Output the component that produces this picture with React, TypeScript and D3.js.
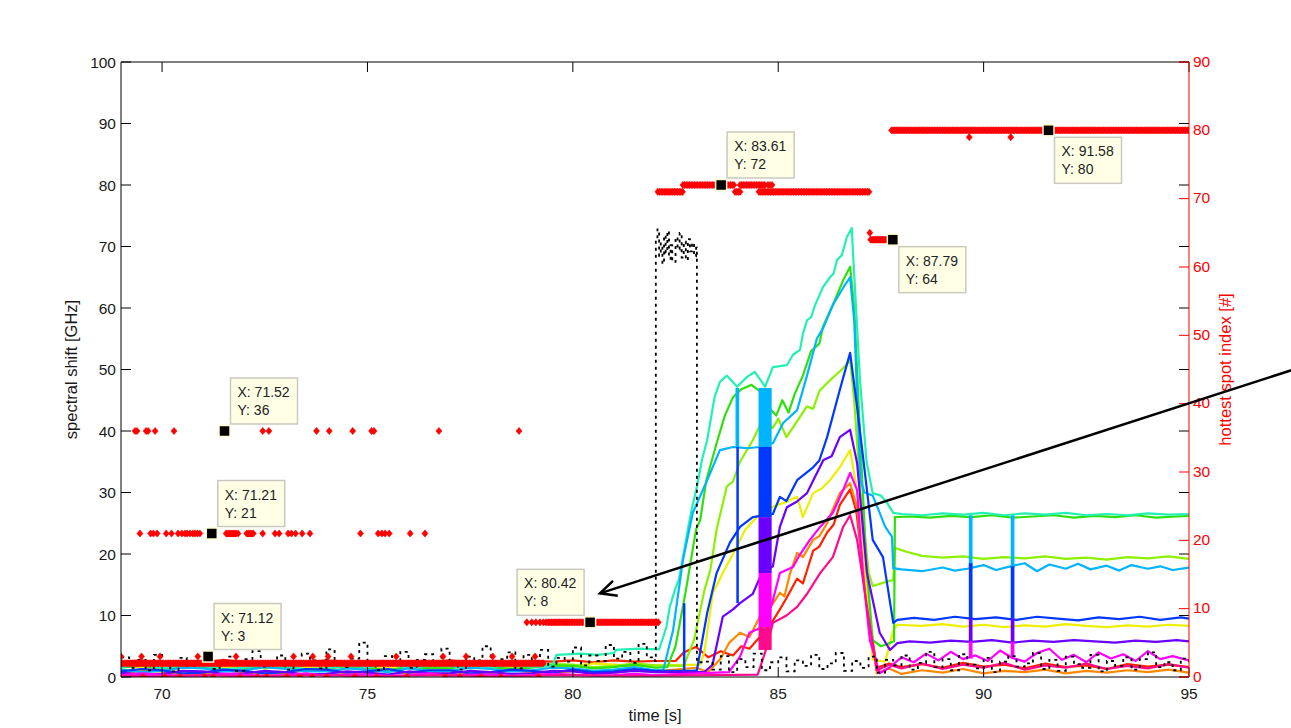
import React from 'react';
import * as d3 from 'd3';

// ---------- axes ----------
const X_DOMAIN: [number, number] = [69, 95];
const Y_LEFT_DOMAIN: [number, number] = [0, 100];
const Y_RIGHT_DOMAIN: [number, number] = [0, 90];
const xTicks = [70, 75, 80, 85, 90, 95];
const yLeftTicks = [0, 10, 20, 30, 40, 50, 60, 70, 80, 90, 100];
const yRightTicks = [0, 10, 20, 30, 40, 50, 60, 70, 80, 90];

// ---------- spectral shift traces (time [s], shift [GHz]) ----------
const traceRed: [number, number][] = [[69,2.4],[69.5,2.7],[70,2.2],[70.5,2.6],[71,2.3],[71.5,2.8],[72,2.4],[72.5,2.2],[73,2.6],[73.5,2.3],[74,2.7],[74.5,2.4],[75,2.2],[75.5,2.6],[76,2.5],[76.5,2.3],[77,2.7],[77.5,2.4],[78,2.6],[78.5,2.3],[79,2.6],[79.5,2.5],[80,2.7],[80.5,2.4],[81,2.7],[81.5,2.5],[82,2.6],[82.5,2.6],[82.7,4.0],[83.0,4.9],[83.3,3.2],[83.6,4.2],[83.9,3.5],[84.1,5],[84.3,4.6],[84.55,6.5],[84.8,8.4],[85.04,11],[85.2,12.8],[85.46,16],[85.6,15.2],[85.85,20.5],[86.0,21.2],[86.19,23.5],[86.35,24.8],[86.5,28],[86.75,30.5],[86.9,27],[87.16,12],[87.4,1.5],[87.7,2.2],[88,1.6],[88.5,2.1],[89,1.5],[89.5,2.3],[90,1.7],[90.5,2.0],[91,1.4],[91.5,2.2],[92,1.6],[92.5,1.9],[93,1.3],[93.5,2.1],[94,1.7],[94.5,2.0],[95,1.6]];
const traceOrange: [number, number][] = [[69,0.6],[69.5,1.0],[70,0.9],[70.5,0.4],[71,0.5],[71.5,1.1],[72,0.8],[72.5,0.5],[73,0.6],[73.5,1.2],[74,1.0],[74.5,0.6],[75,0.7],[75.5,1.1],[76,0.5],[76.5,0.9],[77,0.9],[77.5,0.5],[78,0.6],[78.5,1.1],[79,0.8],[79.5,0.6],[80,1.0],[80.5,0.7],[81,0.7],[81.5,1.1],[82,0.9],[83.0,1.5],[83.3,0.8],[83.6,3],[83.8,5.5],[84.07,7.2],[84.3,6.5],[84.55,9.8],[84.8,11.2],[85.04,13.7],[85.15,13.1],[85.29,16.9],[85.46,20.2],[85.6,19.5],[85.85,22.3],[86.0,22.9],[86.19,25],[86.3,26.8],[86.5,29.9],[86.75,31.5],[86.92,27.6],[87.16,11.4],[87.4,0.6],[87.7,1.4],[88,0.5],[88.5,1.1],[89,0.7],[89.5,1.3],[90,0.6],[90.5,1.0],[91,0.8],[91.5,1.2],[92,0.6],[92.5,1.0],[93,0.7],[93.5,1.1],[94,0.8],[94.5,1.2],[95,0.7]];
const traceYellow: [number, number][] = [[69,1.9],[69.5,1.5],[70,1.6],[70.5,2.1],[71,2.0],[71.5,1.6],[72,1.7],[72.5,2.2],[73,1.9],[73.5,1.5],[74,1.5],[74.5,2.0],[75,1.8],[75.5,1.5],[76,2.0],[76.5,1.7],[77,1.7],[77.5,2.1],[78,1.9],[78.5,1.6],[79,2.1],[79.5,1.8],[80,1.8],[80.5,2.2],[81,2.0],[81.5,1.7],[82,1.9],[83.1,2.0],[83.2,4],[83.41,13.7],[83.65,16.9],[83.9,20],[84.2,24],[84.48,26],[84.8,27.5],[85.2,28.5],[85.46,29.3],[85.6,26],[85.85,29.9],[86.05,30.6],[86.26,32],[86.5,34.1],[86.75,36.9],[86.99,27.6],[87.16,14.1],[87.3,2.8],[87.6,2.5],[87.8,7.5],[87.9,8.5],[88.5,8.3],[89,8.6],[89.5,8.2],[90,8.5],[90.5,8.1],[91,8.4],[91.5,8.2],[92,8.6],[92.5,8.3],[93,8.1],[93.5,8.4],[94,8.2],[94.5,8.5],[95,8.3]];
const traceChartreuse: [number, number][] = [[69,1.8],[69.5,2.2],[70,2.1],[70.5,1.5],[71,1.6],[71.5,2.0],[72,1.9],[72.5,1.4],[73,1.7],[73.5,2.2],[74,2.0],[74.5,1.6],[75,1.6],[75.5,2.1],[76,1.9],[76.5,1.5],[77,1.8],[77.5,2.2],[78,2.1],[78.5,1.7],[79,1.7],[79.5,2.1],[80,2.0],[80.5,1.6],[81,1.8],[81.5,2.2],[82,1.9],[82.7,1.8],[82.95,6],[83.2,14],[83.35,17.5],[83.5,24],[83.75,31],[83.9,31.8],[84.07,35],[84.38,38.5],[84.6,41.5],[84.87,40.5],[85.0,42],[85.2,39],[85.45,41.5],[85.7,44],[85.85,43.6],[86.0,46.5],[86.3,48.5],[86.55,50],[86.75,51.5],[86.85,45],[87.0,30],[87.2,17],[87.3,14.8],[87.55,15.3],[87.8,15.8],[87.84,21],[88.1,20.4],[88.5,19.7],[89,19.4],[89.5,19.6],[90,19.2],[90.5,19.5],[91,19.3],[91.5,19.6],[92,19.2],[92.5,19.4],[93,19.1],[93.5,19.5],[94,19.3],[94.5,19.6],[95,19.2]];
const traceGreen: [number, number][] = [[69,1.5],[69.5,1.9],[70,1.3],[70.5,1.7],[71,1.7],[71.5,1.2],[72,1.4],[72.5,1.9],[73,1.6],[73.5,1.2],[74,1.3],[74.5,1.8],[75,1.5],[75.5,1.1],[76,1.7],[76.5,1.4],[77,1.4],[77.5,1.9],[78,1.6],[78.5,1.3],[79,1.5],[79.5,1.9],[80,1.8],[80.5,1.4],[81,1.6],[81.5,2.0],[82,1.5],[82.3,1.6],[82.5,5],[82.75,14],[83.0,24],[83.1,25.5],[83.25,32],[83.5,38],[83.7,42.5],[83.9,45.5],[84.1,46.8],[84.35,47.5],[84.55,46.5],[84.75,44],[84.95,42.5],[85.1,45],[85.25,43],[85.4,46],[85.6,49],[85.8,53],[86.0,54.2],[86.09,57],[86.33,60.5],[86.58,64.5],[86.75,66.7],[86.85,60],[87.0,38],[87.15,18],[87.3,6],[87.5,5],[87.7,5.5],[87.82,5.8],[87.84,26],[88.2,26.1],[88.7,25.9],[89.2,26.2],[89.7,26.0],[90.2,26.3],[90.7,25.9],[91.2,26.1],[91.7,26.3],[92.2,25.9],[92.7,26.2],[93.2,26.0],[93.7,26.3],[94.2,25.9],[94.7,26.1],[95,26.2]];
const traceAqua: [number, number][] = [[69,1.6],[69.5,2.1],[70,1.4],[70.5,1.9],[71,1.8],[71.5,1.3],[72,1.5],[72.5,2.0],[73,1.7],[73.5,1.3],[74,1.4],[74.5,1.9],[75,1.6],[75.5,2.1],[76,1.5],[76.5,1.8],[77,1.8],[77.5,1.4],[78,1.6],[78.5,2.0],[79,1.7],[79.5,1.8],[79.6,3.6],[80.2,3.8],[80.6,3.6],[81.0,3.9],[81.05,4.4],[81.6,4.6],[82.1,4.5],[82.2,6.5],[82.28,8.2],[82.36,11.4],[82.5,14.5],[82.58,15.8],[82.68,19.5],[82.8,24],[82.9,27.5],[83.02,30.9],[83.15,35.5],[83.27,38.5],[83.45,45.5],[83.58,48],[83.75,49],[84.0,47.2],[84.24,48.8],[84.43,49.6],[84.68,47.2],[84.87,50.4],[85.21,50.7],[85.36,52.4],[85.53,53.2],[85.6,55.8],[85.7,58],[85.8,58.5],[85.9,60.5],[86.09,63.4],[86.26,65],[86.35,65.6],[86.43,67.8],[86.55,68.6],[86.67,71.5],[86.79,73],[86.82,69],[86.99,48.3],[87.15,35],[87.3,29.9],[87.5,29.5],[87.65,28.3],[87.8,26.7],[88,26.5],[88.5,26.3],[89,26.6],[89.5,26.4],[90,26.7],[90.5,26.3],[91,26.6],[91.5,26.4],[92,26.7],[92.5,26.3],[93,26.5],[93.5,26.3],[94,26.6],[94.5,26.4],[95,26.5]];
const traceSky: [number, number][] = [[69,1.2],[69.5,0.8],[70,1.0],[70.5,1.5],[71,1.4],[71.5,0.9],[72,1.1],[72.5,1.6],[73,1.3],[73.5,0.9],[74,0.9],[74.5,1.4],[75,1.2],[75.5,0.8],[76,1.4],[76.5,1.0],[77,1.0],[77.5,1.5],[78,1.3],[78.5,0.9],[79,1.1],[79.5,1.5],[80,1.4],[80.5,1.0],[81,1.2],[81.5,1.6],[82,1.1],[82.2,1.1],[82.44,7.6],[82.68,19],[82.92,26.7],[83.27,32],[83.58,36.9],[83.9,37.4],[84.24,37.2],[84.55,37.4],[84.87,38],[85.12,41.3],[85.46,43.4],[85.7,49],[85.94,55],[86.1,56.8],[86.33,60.5],[86.6,63.5],[86.75,65],[86.85,58],[87.0,32],[87.1,30],[87.3,29.5],[87.47,26.7],[87.6,24.5],[87.77,22.8],[87.8,17.7],[88,17.5],[88.5,17.2],[89,17.8],[89.3,17.3],[89.6,17.6],[90,18.2],[90.3,17.4],[90.6,17.9],[91,18.5],[91.3,17.2],[91.6,18.3],[92,17.6],[92.3,18.4],[92.6,17.5],[93,18.1],[93.3,17.3],[93.6,18.2],[94,17.6],[94.3,18.0],[94.6,17.4],[95,17.8]];
const traceBlue: [number, number][] = [[69,0.9],[69.5,1.3],[70,1.1],[70.5,0.6],[71,0.7],[71.5,1.2],[72,1.0],[72.5,0.6],[73,0.8],[73.5,1.3],[74,1.2],[74.5,0.7],[75,0.9],[75.5,1.3],[76,0.7],[76.5,1.1],[77,1.1],[77.5,0.6],[78,0.8],[78.5,1.2],[79,1.0],[79.5,0.7],[80,1.2],[80.5,0.8],[81,0.9],[81.5,1.3],[82,1.0],[82.9,1.0],[83.02,1.1],[83.27,10.4],[83.5,16.9],[83.82,21.8],[84.07,24.4],[84.38,26],[84.87,26.5],[85.04,29.3],[85.2,28.6],[85.46,32],[85.85,34.1],[86.0,35.2],[86.19,39],[86.5,46.7],[86.75,52.7],[86.92,43.9],[87.16,30.4],[87.3,22.3],[87.55,19.5],[87.8,8.8],[87.9,9.3],[88.3,9.6],[88.8,9.3],[89.3,9.8],[89.8,9.4],[90.3,9.7],[90.8,9.3],[91.3,9.8],[91.8,9.5],[92.3,9.2],[92.8,9.7],[93.3,9.4],[93.8,9.8],[94.3,9.3],[94.8,9.7],[95,9.5]];
const traceViolet: [number, number][] = [[69,0.7],[69.5,0.4],[70,0.5],[70.5,1.0],[71,0.9],[71.5,0.5],[72,0.6],[72.5,1.0],[73,0.8],[73.5,0.4],[74,0.5],[74.5,0.9],[75,0.7],[75.5,0.4],[76,0.9],[76.5,0.6],[77,0.6],[77.5,1.0],[78,0.8],[78.5,0.5],[79,0.6],[79.5,1.0],[80,0.9],[80.5,0.5],[81,0.7],[81.5,1.0],[82,0.8],[83.2,0.8],[83.4,2],[83.65,9.8],[83.9,11],[84.07,12],[84.38,13.5],[84.6,16.9],[84.87,18],[85.04,24.4],[85.21,27.6],[85.45,28.5],[85.7,29.9],[85.9,32.6],[86.1,35.3],[86.3,35.9],[86.5,39],[86.75,40.2],[86.92,34.8],[87.16,16.9],[87.47,7.2],[87.72,4.4],[87.9,5.5],[88.2,5.8],[88.7,5.6],[89.2,5.9],[89.7,5.7],[90.2,6.0],[90.7,5.6],[91.2,5.9],[91.7,5.7],[92.2,6.0],[92.7,5.8],[93.2,5.6],[93.7,5.9],[94.2,5.7],[94.7,6.0],[95,5.8]];
const traceMagenta: [number, number][] = [[69,0.3],[69.5,0.6],[70,0.4],[70.5,0.2],[71,0.2],[71.5,0.5],[72,0.4],[72.5,0.2],[73,0.3],[73.5,0.6],[74,0.2],[74.5,0.4],[75,0.4],[75.5,0.2],[76,0.3],[76.5,0.6],[77,0.2],[77.5,0.4],[78,0.4],[78.5,0.2],[79,0.3],[79.5,0.5],[80,0.4],[80.5,0.2],[81,0.3],[81.5,0.5],[82,0.3],[83.8,0.8],[84.07,3.3],[84.3,7.2],[84.6,8.1],[84.85,12],[85.04,16.9],[85.36,17.9],[85.5,19.6],[85.77,22.3],[86.02,24.4],[86.33,26.7],[86.58,30.4],[86.75,33.2],[86.92,30.4],[87.06,16.9],[87.23,6.0],[87.47,0.6],[87.7,1.5],[88,3.2],[88.3,2.4],[88.6,3.8],[88.9,2.7],[89.2,4.1],[89.5,2.9],[89.8,3.5],[90.1,2.6],[90.4,4.3],[90.7,3.1],[91.0,2.5],[91.3,3.9],[91.6,4.6],[91.9,2.8],[92.2,3.6],[92.5,2.4],[92.8,4.0],[93.1,3.0],[93.4,3.7],[93.7,2.6],[94.0,4.2],[94.3,2.9],[94.6,3.4],[95,2.7]];
const traceRose: [number, number][] = [[69,0.2],[70,0.1],[71,0.3],[72,0.1],[73,0.2],[74,0.3],[75,0.1],[76,0.2],[77,0.3],[78,0.1],[79,0.2],[80,0.3],[81,0.2],[82,0.2],[84.5,0.4],[84.7,4.4],[84.87,8.8],[85.2,10],[85.46,11.4],[85.7,13.5],[86.02,16.9],[86.33,19.5],[86.58,24.4],[86.75,26.3],[86.92,22.3],[87.16,11.4],[87.4,1.1],[87.7,2.0],[88,1.4],[88.5,2.2],[89,1.3],[89.5,2.0],[90,1.5],[90.5,2.3],[91,1.2],[91.5,1.9],[92,1.5],[92.5,2.2],[93,1.3],[93.5,1.8],[94,1.4],[94.5,2.1],[95,1.5]];

const traceKeys = ['red', 'orange', 'yellow', 'chartreuse', 'green', 'aqua', 'sky', 'blue', 'violet', 'magenta', 'rose'];
const traceData = [traceRed, traceOrange, traceYellow, traceChartreuse, traceGreen, traceAqua, traceSky, traceBlue, traceViolet, traceMagenta, traceRose];
const traceColors: Record<string, string> = {
  red: '#ff2200', orange: '#ff8800', yellow: '#eeee00', chartreuse: '#8cf000', green: '#2ee010',
  aqua: '#22f0b4', sky: '#00b4ff', blue: '#0038ff', violet: '#6a00ff', magenta: '#ff00ff', rose: '#ff0a8c',
};

// channel glitches (value jumps to neighbouring channel)
const glitchStart = [82.68, 83.96, 83.98, 84.52, 84.52, 84.52, 84.52, 84.52, 89.64, 89.64, 89.64, 89.64, 90.66, 90.66, 90.66, 90.66];
const glitchEnd = [82.73, 84.05, 84.03, 84.84, 84.84, 84.84, 84.84, 84.84, 89.73, 89.73, 89.73, 89.73, 90.75, 90.75, 90.75, 90.75];
const glitchKey = ['blue', 'sky', 'blue', 'sky', 'blue', 'violet', 'magenta', 'rose', 'sky', 'blue', 'violet', 'magenta', 'sky', 'blue', 'violet', 'magenta'];
const glitchLow = [1, 37.4, 12, 37.4, 26, 16.9, 8.1, 4.4, 17.5, 9.6, 5.8, 3.0, 17.8, 9.5, 5.7, 3.1];
const glitchHigh = [12, 47, 37.4, 47, 37.4, 26, 16.9, 8.1, 26.3, 18.5, 9.6, 5.8, 26.3, 18, 9.5, 5.7];

// black dotted reference trace
const blackAStart = 69.0;
const blackBStart = 83.2;
const blackStep = 0.2;
const blackAValues = [3.2,1.5,2.8,1.1,3.6,2.2,0.9,3.1,1.8,2.6,3.9,1.3,2.4,3.3,1.0,2.9,4.2,1.7,2.5,3.5,1.2,2.1,3.8,2.7,1.4,4.5,2.3,1.6,3.0,5.6,2.0,1.1,3.4,2.6,4.1,1.5,2.8,3.7,1.9,4.6,2.4,1.2,3.3,2.7,5.0,1.8,2.9,4.0,1.4,3.6,2.2,4.4,1.7,3.1,2.5,4.8,1.9,3.5,2.6,5.2,3.0,4.1,2.3,5.4,3.2];
const blackSpikeT = [82.0,82.02,82.06,82.1,82.14,82.18,82.22,82.26,82.3,82.34,82.38,82.42,82.5,82.55,82.6,82.65,82.7,82.75,82.8,82.85,82.9,82.95,83.0,83.02];
const blackSpikeV = [2.6,71,72.8,68.5,70.5,67.2,71.8,69,72.5,68,70.2,67.5,71.5,69.5,72.2,68.2,70.8,67.8,71.2,69.2,70.6,68.4,69.8,2.4];
const blackBValues = [2.5,1.2,3.4,0.8,2.9,1.6,3.8,1.1,2.4,3.2,0.9,2.7,1.8,3.6,1.3,2.2,3.9,1.0,2.6,1.5,3.3,0.7,2.8,1.9,3.5,1.2,2.3,4.1,1.6,2.9,1.1,3.7,2.0,1.4,3.1,0.8,2.5,3.4,1.7,2.2,3.9,1.3,2.8,1.0,3.3,2.1,1.5,3.6,0.9,2.6,1.8,3.2,1.2,2.9,4.0,1.6,2.4,1.1,3.0,2.0];

// hottest spot index (right axis): constant runs sampled densely + isolated samples
const hsSampleStep = 0.04;
const hsRunStart = [69.0, 79.4, 82.07, 82.68, 84.07, 84.53, 87.25, 87.76];
const hsRunEnd = [79.3, 82.08, 82.68, 83.92, 84.7, 87.23, 87.7, 95.0];
const hsRunValue = [2, 8, 71, 72, 72, 71, 64, 80];
const hsSingleT = [69.34,69.39,69.61,69.66,69.83,70.29,72.45,72.6,73.76,74.07,74.64,75.1,75.16,76.74,78.69,
  69.46,69.72,69.79,69.88,70.1,70.23,70.39,70.48,70.56,70.61,70.68,70.75,70.8,70.86,70.92,71.56,71.6,71.64,71.68,71.72,71.76,71.8,71.85,72.06,72.1,72.14,72.18,72.22,72.45,72.75,72.85,73.07,73.15,73.25,73.41,73.6,74.83,75.26,75.35,75.43,75.53,76.04,76.4,
  69.0,69.5,69.95,70.87,71.8,73.2,73.67,74.04,74.6,75.7,76.84,77.4,78.05,78.52,79.08,
  69.54,70.07,70.44,71.04,71.24,71.9,72.33,72.55,73.04,73.36,73.65,74.01,74.7,75.23,75.96,76.89,77.25,77.76,78.25,79.17,
  78.88,79.0,79.1,79.2,79.28,79.35,
  83.95,83.99,84.03,84.07,
  84.75,84.8,84.85,
  87.23,
  89.65,90.66];
const hsSingleV = [36,36,36,36,36,36,36,36,36,36,36,36,36,36,36,
  21,21,21,21,21,21,21,21,21,21,21,21,21,21,21,21,21,21,21,21,21,21,21,21,21,21,21,21,21,21,21,21,21,21,21,21,21,21,21,21,21,21,21,
  3,3,3,3,3,3,3,3,3,3,3,3,3,3,3,
  0,0,0,0,0,0,0,0,0,0,0,0,0,0,0,0,0,0,0,0,
  8,8,8,8,8,8,
  71,71,71,71,
  72,72,72,
  65,
  79,79];

// data tips
const tipX = [71.12, 71.21, 71.52, 80.42, 83.61, 87.79, 91.58];
const tipY = [3, 21, 36, 8, 72, 64, 80];
const tipPlace = ['tr', 'tr', 'tr', 'tl', 'tr', 'br', 'br'];

// annotation arrow (data units of the left axis)
const arrowFrom: [number, number] = [97.5, 49.9];
const arrowTo: [number, number] = [80.66, 13.6];

const FONT = '"Liberation Sans", Arial, Helvetica, sans-serif';

export default function App() {
  const W = 1291, H = 728;
  const L = 121, R = 1189, T = 62, B = 677;
  const x = d3.scaleLinear().domain(X_DOMAIN).range([L, R]);
  const yL = d3.scaleLinear().domain(Y_LEFT_DOMAIN).range([B, T]);
  const yR = d3.scaleLinear().domain(Y_RIGHT_DOMAIN).range([B, T]);
  const line = d3.line<[number, number]>().x(d => x(d[0])).y(d => yL(d[1]));
  const stepLine = d3.line<[number, number]>().x(d => x(d[0])).y(d => yL(d[1])).curve(d3.curveStepAfter);

  const blackPts: [number, number][] = [
    ...blackAValues.map((v, i) => [blackAStart + i * blackStep, v] as [number, number]),
    ...blackSpikeT.map((t, i) => [t, blackSpikeV[i]] as [number, number]),
    ...blackBValues.map((v, i) => [blackBStart + i * blackStep, v] as [number, number]),
  ];

  const hsPts: [number, number][] = [];
  hsRunStart.forEach((s, i) => {
    d3.range(s, hsRunEnd[i] + 1e-9, hsSampleStep).forEach(t => hsPts.push([t, hsRunValue[i]]));
  });
  hsSingleT.forEach((t, i) => hsPts.push([t, hsSingleV[i]]));

  const diamond = (cx: number, cy: number) => `M${cx},${cy - 3.6}L${cx + 3},${cy}L${cx},${cy + 3.6}L${cx - 3},${cy}Z`;
  const hsPath = hsPts.map(p => diamond(x(p[0]), yR(p[1]))).join('');

  const tick = 10;
  const ax0 = x(arrowFrom[0]), ay0 = yL(arrowFrom[1]);
  const ax1 = x(arrowTo[0]), ay1 = yL(arrowTo[1]);
  const ang = Math.atan2(ay0 - ay1, ax0 - ax1);
  const headLen = 18, headAng = 0.45;
  const h1 = [ax1 + headLen * Math.cos(ang + headAng), ay1 + headLen * Math.sin(ang + headAng)];
  const h2 = [ax1 + headLen * Math.cos(ang - headAng), ay1 + headLen * Math.sin(ang - headAng)];
  const TF = 15.5;

  return (
    <div style={{ position: 'absolute', left: 0, top: 0 }}>
      <svg width={W} height={H} style={{ display: 'block', fontFamily: FONT, background: '#fff' }}>
        <defs>
          <clipPath id="plotclip"><rect x={L} y={T - 2} width={R - L} height={B - T + 2} /></clipPath>
        </defs>
        <rect x={0} y={0} width={W} height={H} fill="#fff" />
        <g clipPath="url(#plotclip)">
          {traceData.map((d, i) => (
            <path key={traceKeys[i]} d={line(d) || ''} fill="none" stroke={traceColors[traceKeys[i]]} strokeWidth={2.2} strokeLinejoin="round" />
          ))}
          {glitchStart.map((s, i) => (
            <rect key={'g' + i} x={x(s)} y={yL(glitchHigh[i])} width={Math.max(2.5, x(glitchEnd[i]) - x(s))}
              height={yL(glitchLow[i]) - yL(glitchHigh[i])} fill={traceColors[glitchKey[i]]} />
          ))}
          <path d={stepLine(blackPts) || ''} fill="none" stroke="#000" strokeWidth={1.8} strokeDasharray="3 4" />
          <path d={hsPath} fill="#ff0000" stroke="#ff0000" strokeWidth={0.6} />
        </g>

        {/* box & ticks */}
        <line x1={L} x2={R} y1={T} y2={T} stroke="#000" strokeWidth={1} />
        <line x1={L} x2={R} y1={B} y2={B} stroke="#000" strokeWidth={1} />
        <line x1={L} x2={L} y1={T} y2={B} stroke="#000" strokeWidth={1} />
        {xTicks.map(t => (
          <g key={'xt' + t}>
            <line x1={x(t)} x2={x(t)} y1={B} y2={B - tick} stroke="#000" />
            <line x1={x(t)} x2={x(t)} y1={T} y2={T + tick} stroke="#000" />
            <text x={x(t)} y={B + 22} textAnchor="middle" fontSize={TF} fill="#1a1a1a">{t}</text>
          </g>
        ))}
        {yLeftTicks.map(v => (
          <g key={'yl' + v}>
            <line x1={L} x2={L + tick} y1={yL(v)} y2={yL(v)} stroke="#000" />
            <line x1={R} x2={R - tick} y1={yL(v)} y2={yL(v)} stroke="#000" />
            <text x={L - 5} y={yL(v) + 5.5} textAnchor="end" fontSize={TF} fill="#1a1a1a">{v}</text>
          </g>
        ))}
        <line x1={R} x2={R} y1={T} y2={B} stroke="#ff0000" strokeWidth={1} />
        {yRightTicks.map(v => (
          <g key={'yr' + v}>
            <line x1={R} x2={R - tick} y1={yR(v)} y2={yR(v)} stroke="#ff0000" />
            <text x={R + 4} y={yR(v) + 4.5} textAnchor="start" fontSize={TF} fill="#ff0000">{v}</text>
          </g>
        ))}
        <text x={(L + R) / 2} y={721} textAnchor="middle" fontSize={16.5} fill="#1a1a1a">time [s]</text>
        <text transform={`translate(77,${(T + B) / 2}) rotate(-90)`} textAnchor="middle" fontSize={16.5} fill="#1a1a1a">spectral shift [GHz]</text>
        <text transform={`translate(1231,${(T + B) / 2}) rotate(-90)`} textAnchor="middle" fontSize={16.5} fill="#ff0000">hottest spot index [#]</text>

        {/* data tips */}
        {tipX.map((tx, i) => {
          const sx = x(tx), sy = yR(tipY[i]);
          const w = 67, h = 46;
          const place = tipPlace[i];
          const bx = place === 'tl' ? sx - 6 - w : sx + 6;
          const by = place === 'br' ? sy + 7 : sy - 7 - h;
          return (
            <g key={'tip' + i}>
              <rect x={bx} y={by} width={w} height={h} fill="#ffffe6" stroke="#c9c9c0" strokeWidth={1.5} />
              <text x={bx + 7} y={by + 19} fontSize={14} fill="#222">{`X: ${tx.toFixed(2)}`}</text>
              <text x={bx + 7} y={by + 37} fontSize={14} fill="#222">{`Y: ${tipY[i]}`}</text>
              <rect x={sx - 5.5} y={sy - 5.5} width={11} height={11} fill="#000" stroke="#fffbd0" strokeWidth={1.5} />
            </g>
          );
        })}

        {/* arrow annotation */}
        <line x1={ax0} y1={ay0} x2={ax1} y2={ay1} stroke="#000" strokeWidth={2.5} />
        <polyline points={`${h1[0]},${h1[1]} ${ax1},${ay1} ${h2[0]},${h2[1]}`} fill="none" stroke="#000" strokeWidth={2.5} />
      </svg>
    </div>
  );
}
